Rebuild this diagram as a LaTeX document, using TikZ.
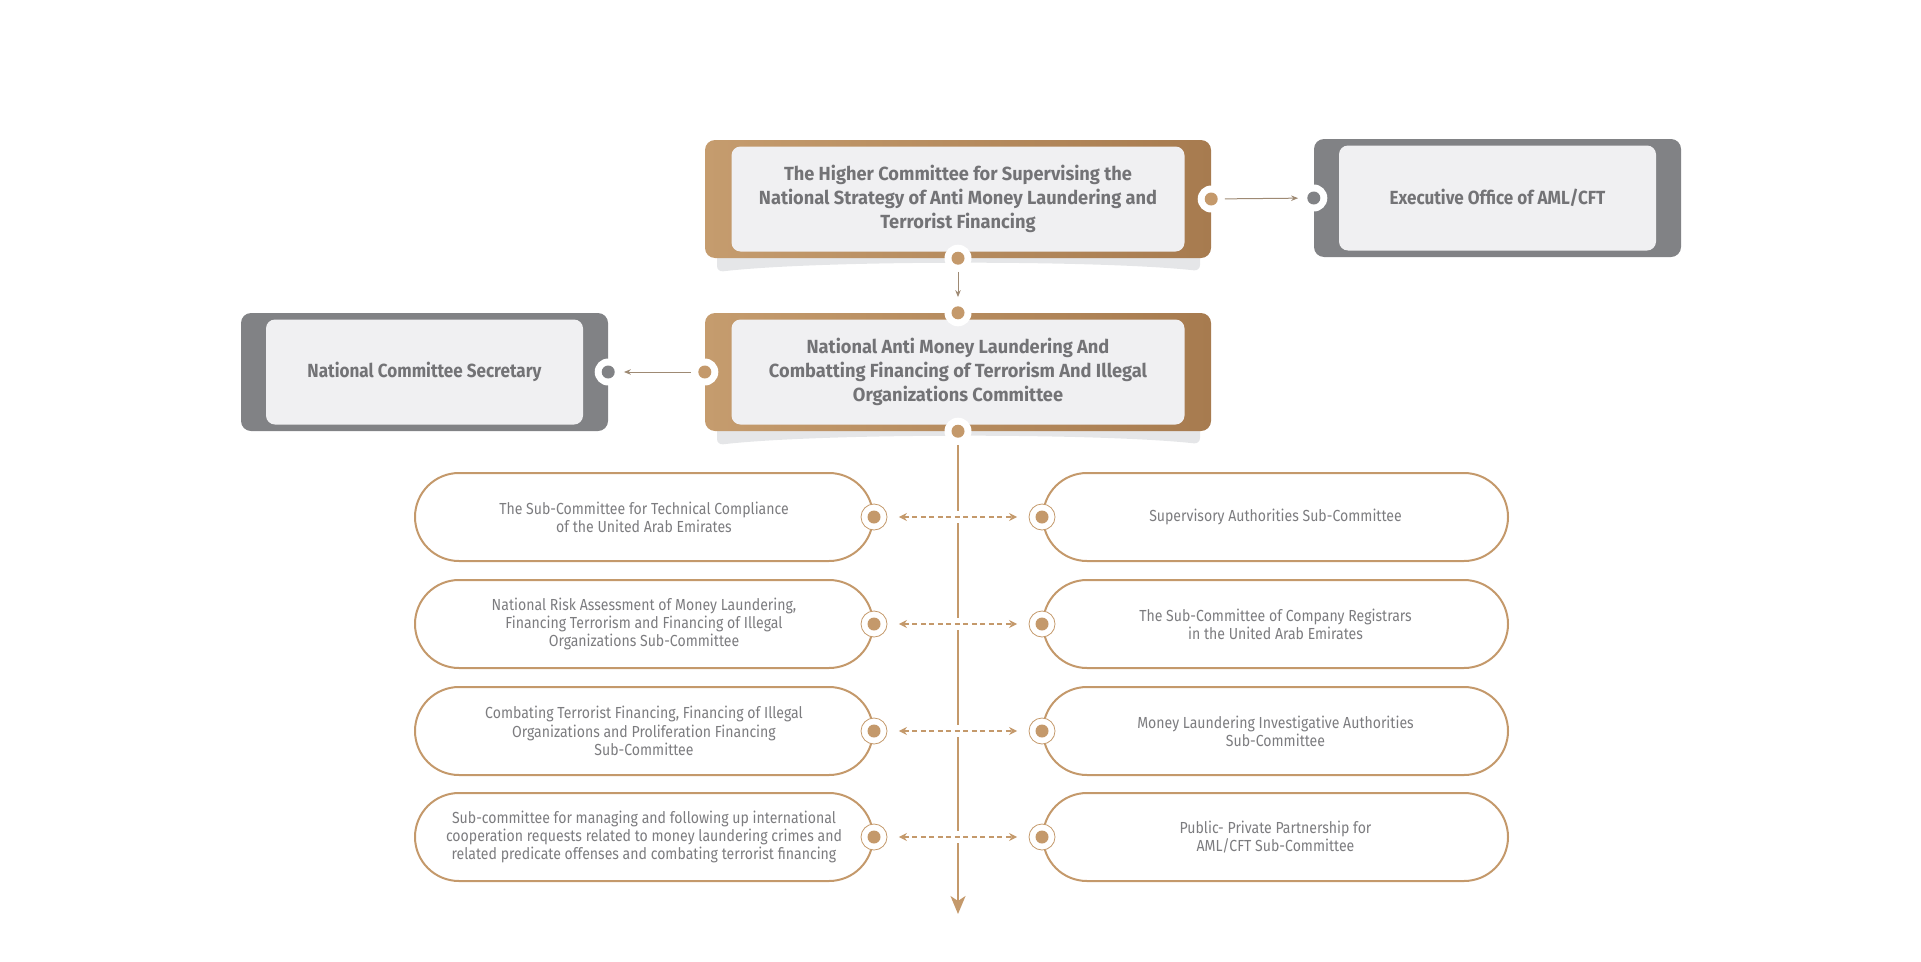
\documentclass[tikz,border=0pt]{standalone}
\usepackage{fontspec}
\setmainfont{Fira Sans}[FakeStretch=0.88]
\newfontfamily\bigtitle{Fira Sans}[FakeStretch=0.96]
\newfontfamily\smalltitle{Fira Sans}[FakeStretch=0.9]
\usetikzlibrary{arrows,arrows.meta,positioning}

\definecolor{brownL}{HTML}{C59C6E}
\definecolor{brownD}{HTML}{A77B4F}
\definecolor{boxgray}{HTML}{818285}
\definecolor{paper}{HTML}{F0F0F2}
\definecolor{titlegray}{HTML}{737376}
\definecolor{textgray}{HTML}{7C7C7F}
\definecolor{pillbrown}{HTML}{C4996B}
\definecolor{shadowgray}{HTML}{E5E6E8}
\definecolor{arrowgray}{HTML}{9E8A74}

\begin{document}
\begin{tikzpicture}[
    x = 1pt,
    y = -1pt,
    >=stealth',
    outer/.style = {
      rectangle,
      rounded corners = 10pt,
      minimum width = 506pt,
      minimum height = 118pt,
      inner sep = 0pt
    },
    brownbox/.style = {outer, left color = brownL, right color = brownD},
    graybox/.style = {outer, fill = boxgray, minimum width = 367pt},
    inbox/.style = {
      rectangle,
      rounded corners = 9pt,
      fill = paper,
      minimum width = 453pt,
      minimum height = 105pt,
      inner sep = 0pt,
      align = center,
      text = titlegray,
      font = \bigtitle\fontsize{19}{24}\selectfont\bfseries
    },
    grayin/.style = {
      inbox,
      minimum width = 317pt,
      font = \smalltitle\fontsize{19}{24}\selectfont\bfseries
    },
    port/.style = {
      circle,
      fill = white,
      minimum size = 27pt,
      inner sep = 0pt,
      path picture = {\fill[#1] (path picture bounding box.center) circle (6.5pt);}
    },
    ring/.style = {
      circle,
      draw = pillbrown,
      line width = 0.8pt,
      fill = white,
      minimum size = 26pt,
      inner sep = 0pt,
      path picture = {\fill[pillbrown] (path picture bounding box.center) circle (6.5pt);}
    },
    pill/.style = {
      rectangle,
      draw = pillbrown,
      line width = 2pt,
      rounded corners = 44pt,
      minimum width = 458pt,
      minimum height = 88pt,
      align = center,
      text = textgray,
      font = \fontsize{16}{18.3}\selectfont
    },
    link/.style = {
      -{Stealth[length=7pt, width=5.5pt]},
      arrowgray,
      line width = 1pt,
      shorten >= 2pt
    },
    gap/.style = {white, line width = 12pt, shorten >= 14pt, shorten <= 14pt},
    dasharrow/.style = {
      {Stealth[length=8pt, width=8pt]}-{Stealth[length=8pt, width=8pt]},
      pillbrown,
      line width = 1.5pt,
      dash pattern = on 5pt off 3.5pt,
      shorten >= 11.5pt,
      shorten <= 11.5pt
    }
  ]
  \useasboundingbox (0,0) rectangle (1921,961);

  % shadows under the brown boxes
  \fill[shadowgray, rounded corners=6pt] (717,240) -- (717,272)
    .. controls (820,260) and (1100,260) .. (1200,271) -- (1200,240) -- cycle;
  \fill[shadowgray, rounded corners=6pt] (717,413) -- (717,445)
    .. controls (820,433) and (1100,433) .. (1200,444) -- (1200,413) -- cycle;

  % committees
  \node[brownbox] (hc) at (958,199) {};
  \node[inbox] (hcT) at (hc) {The Higher Committee for Supervising the\\National Strategy of Anti Money Laundering and\\Terrorist Financing};

  \node[graybox] (ex) at (1497.5,198) {};
  \node[grayin] (exT) at (ex) {Executive Office of AML/CFT};

  \node[brownbox] (na) at (958,372) {};
  \node[inbox] (naT) at (na) {National Anti Money Laundering And\\Combatting Financing of Terrorism And Illegal\\Organizations Committee};

  \node[graybox] (sec) at (424.5,372) {};
  \node[grayin] (secT) at (sec) {National Committee Secretary};

  \node[port=pillbrown] (hcE) at (hc.east) {};
  \node[port=pillbrown] (hcS) at (hc.south) {};
  \node[port=boxgray] (exW) at (ex.west) {};
  \node[port=pillbrown] (naN) at (na.north) {};
  \node[port=pillbrown] (naW) at (na.west) {};
  \node[port=pillbrown] (naS) at (na.south) {};
  \node[port=boxgray] (secE) at (sec.east) {};

  \draw[link] (hcE) -- (exW);
  \draw[link] (hcS) -- (naN);
  \draw[link] (naW) -- (secE);

  % main line
  \coordinate (end) at (958,914);
  \draw[-{Stealth[length=18pt, width=15pt, inset=5pt]}, pillbrown, line width=2pt] (naS) -- (end);

  % sub-committees
  \node[pill] (tc) at (644,517) {The Sub-Committee for Technical Compliance\\of the United Arab Emirates};
  \node[pill] (ra) at (644,624) {National Risk Assessment of Money Laundering,\\Financing Terrorism and Financing of Illegal\\Organizations Sub-Committee};
  \node[pill] (tf) at (644,731) {Combating Terrorist Financing, Financing of Illegal\\Organizations and Proliferation Financing\\Sub-Committee};
  \node[pill] (ic) at (644,837) {Sub-committee for managing and following up international\\cooperation requests related to money laundering crimes and\\related predicate offenses and combating terrorist financing};

  \node[pill, minimum width=465pt] (sa) at (1275.5,517) {Supervisory Authorities Sub-Committee};
  \node[pill, minimum width=465pt] (cr) at (1275.5,624) {The Sub-Committee of Company Registrars\\in the United Arab Emirates};
  \node[pill, minimum width=465pt] (ia) at (1275.5,731) {Money Laundering Investigative Authorities\\Sub-Committee};
  \node[pill, minimum width=465pt] (pp) at (1275.5,837) {Public- Private Partnership for\\AML/CFT Sub-Committee};

  \node[ring] (tcP) at (tc.east) {};
  \node[ring] (raP) at (ra.east) {};
  \node[ring] (tfP) at (tf.east) {};
  \node[ring] (icP) at (ic.east) {};
  \node[ring] (saP) at (sa.west) {};
  \node[ring] (crP) at (cr.west) {};
  \node[ring] (iaP) at (ia.west) {};
  \node[ring] (ppP) at (pp.west) {};

  \draw[gap] (tcP) -- (saP);
  \draw[gap] (raP) -- (crP);
  \draw[gap] (tfP) -- (iaP);
  \draw[gap] (icP) -- (ppP);

  \draw[dasharrow] (tcP) -- (saP);
  \draw[dasharrow] (raP) -- (crP);
  \draw[dasharrow] (tfP) -- (iaP);
  \draw[dasharrow] (icP) -- (ppP);

\end{tikzpicture}
\end{document}
